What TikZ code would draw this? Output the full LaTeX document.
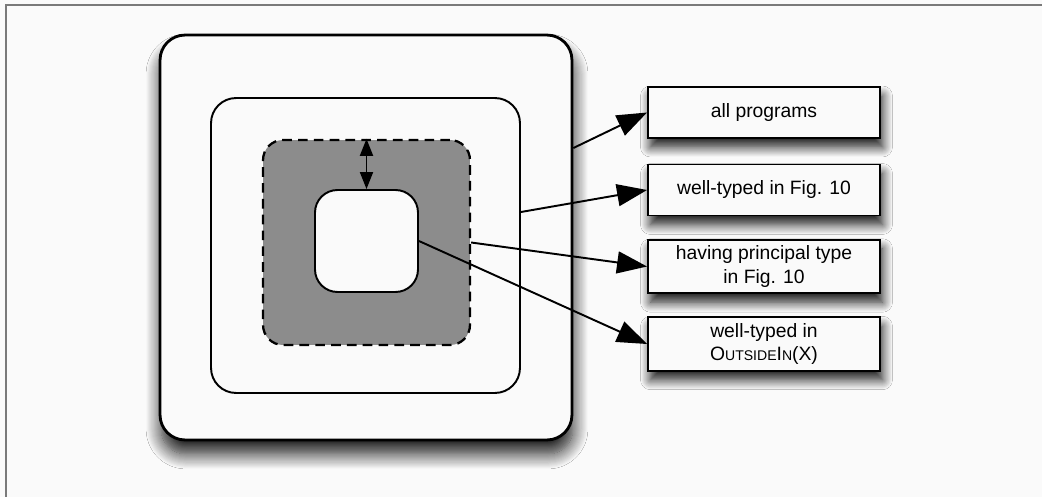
\documentclass[tikz,border=0pt]{standalone}
\usepackage{fontspec}
\setmainfont{Liberation Sans}
\usetikzlibrary{arrows.meta,shadows.blur}
\definecolor{paper}{HTML}{FAFAFA}
\definecolor{framegray}{HTML}{7A7A7A}
\definecolor{setgray}{HTML}{8C8C8C}
\tikzset{
  region/.style = {rectangle, draw=black, fill=paper, line width=1.1pt,
                   rounded corners=0.5cm, inner sep=0pt},
  setbox/.style = {rectangle, draw=black, fill=paper, line width=1.1pt,
                   minimum width=4.64cm, minimum height=1.02cm, align=center,
                   font=\fontsize{11}{13.5}\selectfont,
                   blur shadow={shadow xshift=0.05cm, shadow yshift=-0.18cm,
                                shadow blur radius=0.2cm, shadow opacity=90,
                                shadow blur steps=12}},
  flow/.style   = {-{Triangle[length=6mm,width=4.4mm]}, line width=1.1pt},
}

\begin{document}
\begin{tikzpicture}[x=0.02cm, y=-0.02cm]
      \useasboundingbox (0,0) rectangle (1042,497);
      \fill[paper] (0,0) rectangle (1042,497);
      \draw[framegray, line width=0.9pt] (1042,5) -- (6,5) -- (6,497);

      % nested sets
      \node[region, minimum width=8.24cm, minimum height=8.1cm, line width=1.6pt,
            blur shadow={shadow xshift=0.02cm, shadow yshift=-0.28cm,
                         shadow blur radius=0.3cm, shadow opacity=90,
                         shadow blur steps=15}]
            (outer)  at (366, 237.5) {};
      \node[region, minimum width=6.18cm, minimum height=5.9cm]
            (middle) at (365.5, 245.5) {};
      \node[region, fill=setgray, dash pattern=on 5.5pt off 3.5pt, line width=1.3pt,
            rounded corners=0.4cm, minimum width=4.14cm, minimum height=4.1cm]
            (gray)   at (366.5, 242.5) {};
      \node[region, rounded corners=0.45cm, minimum width=2.06cm, minimum height=2.04cm]
            (inner)  at (366.5, 241) {};

      \draw[{Triangle[length=3.4mm,width=2.6mm]}-{Triangle[length=3.4mm,width=2.6mm]}, line width=1.1pt]
            (gray.north) -- (inner.north);

      % labels
      \node[setbox] (all)  at (764, 112.5) {all programs};
      \node[setbox] (fig)  at (764, 190)   {well-typed in Fig. 10};
      \node[setbox] (prin) at (764, 266.5) {having principal type\\in Fig. 10};
      \node[setbox] (oin)  at (764, 344)   {well-typed in\\O{\fontsize{8}{8}\selectfont UTSIDE}I{\fontsize{8}{8}\selectfont N}(X)};

      \draw[flow] ([yshift=1.79cm]outer.east)  -- (all.west);
      \draw[flow] ([yshift=0.67cm]middle.east) -- (fig.west);
      \draw[flow] (gray.east)  -- (prin.west);
      \draw[flow] (inner.east) -- (oin.west);
    \end{tikzpicture}
\end{document}
